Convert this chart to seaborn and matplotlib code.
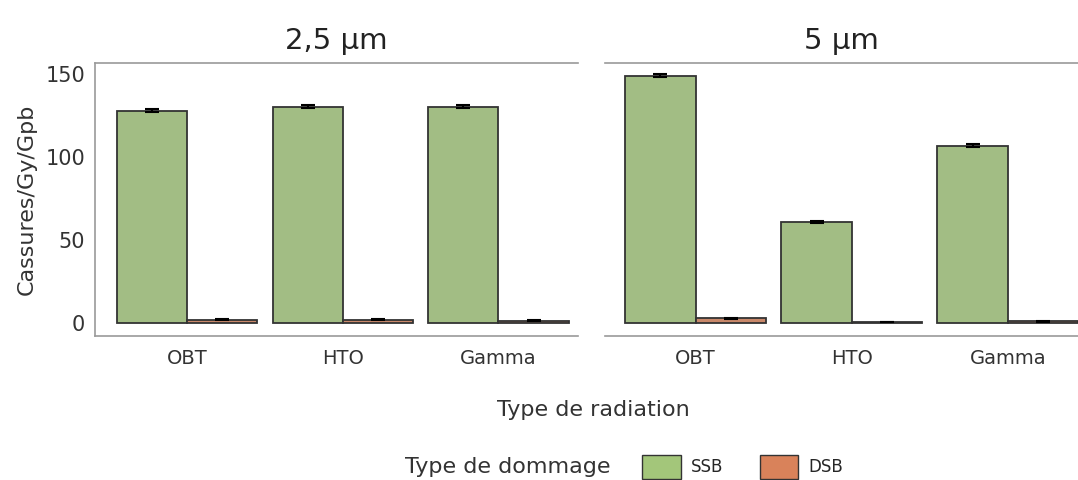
import pandas as pd
import seaborn as sns
import matplotlib.pyplot as plt
import matplotlib.patches as mpatches

# --- data ---
radiations = ["OBT", "HTO", "Gamma"]
dommages = ["SSB", "DSB"]
tailles = ["2,5 µm", "5 µm"]

ssb_25 = [128.0, 130.5, 130.5]
dsb_25 = [2.0, 2.0, 1.5]
ssb_5 = [149.0, 61.0, 107.0]
dsb_5 = [3.0, 0.5, 1.0]

ssb_err_25 = [0.8, 0.7, 1.0]
dsb_err_25 = [0.2, 0.2, 0.2]
ssb_err_5 = [0.9, 0.7, 0.8]
dsb_err_5 = [0.3, 0.1, 0.2]

colors = {"SSB": "#a3c67a", "DSB": "#d9825a"}
edge = "#333333"
grey = "#9a9a9a"
txt = "#333333"

rows = []
for taille, ssb, dsb, es, ed in [
    (tailles[0], ssb_25, dsb_25, ssb_err_25, dsb_err_25),
    (tailles[1], ssb_5, dsb_5, ssb_err_5, dsb_err_5),
]:
    for i, rad in enumerate(radiations):
        rows.append((taille, rad, "SSB", ssb[i], es[i]))
        rows.append((taille, rad, "DSB", dsb[i], ed[i]))
df = pd.DataFrame(rows, columns=["taille", "radiation", "dommage", "valeur", "err"])

sns.set_style("white")
plt.rcParams["font.family"] = ["DejaVu Sans"]

fig = plt.figure(figsize=(10.78, 4.8), dpi=100)
ax1 = fig.add_axes([0.0881, 0.30, 0.448, 0.569])
ax2 = fig.add_axes([0.5612, 0.30, 0.4388, 0.569])

for ax, taille, xlim in [(ax1, tailles[0], (-0.59, 2.51)), (ax2, tailles[1], (-0.58, 2.45))]:
    d = df[df["taille"] == taille]
    sns.barplot(data=d, x="radiation", y="valeur", hue="dommage", order=radiations,
                hue_order=dommages, palette=colors, width=0.9, edgecolor=edge,
                linewidth=1.3, errorbar=None, legend=False, ax=ax)
    # error bars at bar centres
    for j, dom in enumerate(dommages):
        cont = ax.containers[j]
        sub = d[d["dommage"] == dom].set_index("radiation").loc[radiations]
        xs = [p.get_x() + p.get_width() / 2 for p in cont.patches]
        ax.errorbar(xs, sub["valeur"], yerr=sub["err"], fmt="none", ecolor="black",
                    elinewidth=1.5, capsize=5, capthick=1.5)
    ax.set_xlim(*xlim)
    ax.set_ylim(-7.8, 156.8)
    ax.set_xlabel("")
    ax.set_ylabel("")
    ax.set_title(taille, fontsize=21, color="#222222", pad=10)
    for s in ["top", "bottom"]:
        ax.spines[s].set_color(grey)
        ax.spines[s].set_linewidth(1.2)
    ax.spines["right"].set_visible(False)
    ax.tick_params(axis="x", labelsize=14, colors=txt, length=4, color=grey, pad=5)

ax1.spines["left"].set_color(grey)
ax1.spines["left"].set_linewidth(1.2)
ax1.set_yticks([0, 50, 100, 150])
ax1.tick_params(axis="y", labelsize=15, colors=txt, length=4, color=grey, pad=3)
ax1.set_ylabel("Cassures/Gy/Gpb", fontsize=16, color=txt, labelpad=6)

ax2.spines["left"].set_visible(False)
ax2.set_yticks([])

fig.text(0.55, 0.145, "Type de radiation", ha="center", va="center", fontsize=16, color=txt)

# legend: title on the left, entries on the right
fig.text(0.566, 0.027, "Type de dommage", ha="right", va="center", fontsize=16, color=txt)
handles = [mpatches.Patch(facecolor=colors[d], edgecolor=edge, label=d) for d in dommages]
fig.legend(handles=handles, loc="center left", ncol=2,
           bbox_to_anchor=(0.596, 0.027), frameon=False, fontsize=12,
           handlelength=2.3, handleheight=1.8, columnspacing=2.2,
           handletextpad=0.6, borderpad=0, borderaxespad=0)

fig.savefig("out.png", dpi=100)
